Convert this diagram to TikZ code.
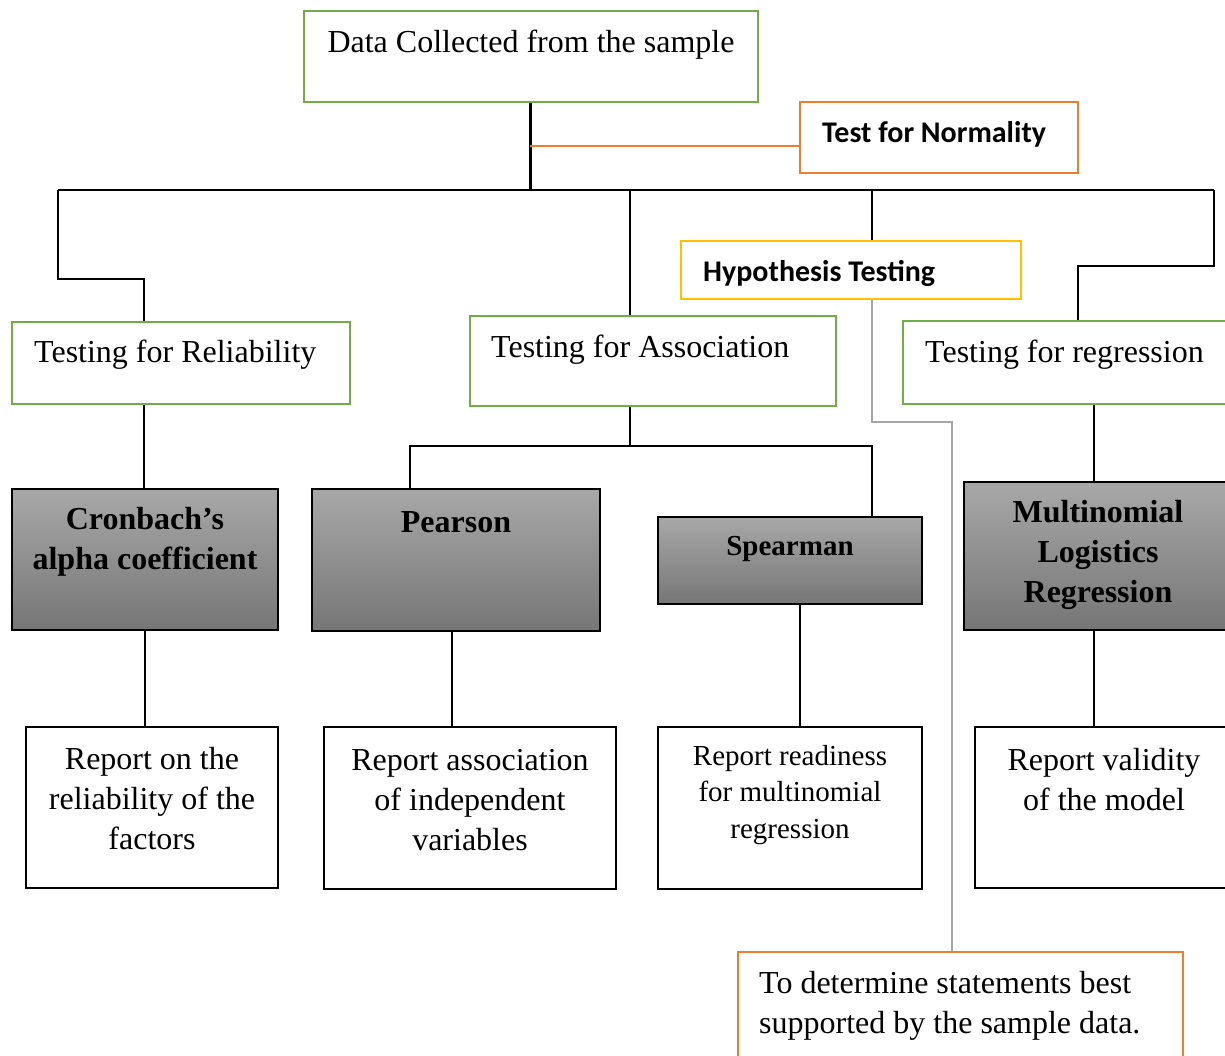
\documentclass[tikz,border=0pt]{standalone}
\usepackage{fontspec}
\setmainfont{Liberation Serif}
\newfontfamily\calibri{Carlito}
\usetikzlibrary{fit}
\definecolor{leafgreen}{HTML}{70AD47}
\definecolor{accentorange}{HTML}{ED7D31}
\definecolor{goldline}{HTML}{FFC000}
\definecolor{guideline}{HTML}{A5A5A5}
\definecolor{shadetop}{RGB}{168,168,168}
\definecolor{shadebottom}{RGB}{118,118,118}
\begin{document}
\begin{tikzpicture}[x=1pt,y=-1pt,
  frame/.style={inner sep=0pt, line width=2pt},
  greenbox/.style={frame, draw=leafgreen},
  orangebox/.style={frame, draw=accentorange},
  goldbox/.style={frame, draw=goldline},
  graybox/.style={frame, draw=black, line width=1.5pt, top color=shadetop, bottom color=shadebottom},
  plainbox/.style={frame, draw=black},
  serif/.style={font=\fontsize{32}{40}\selectfont, inner sep=0pt, align=center},
  serifbold/.style={font=\fontsize{32}{40}\selectfont\bfseries, inner sep=0pt, align=center},
  sans/.style={font=\fontsize{30}{34}\selectfont\calibri\bfseries, inner sep=0pt, anchor=west},
  link/.style={line width=2pt, draw=black},
]
\clip (0,0) rectangle (1225,1055);
\useasboundingbox (0,0) rectangle (1225,1055);
\fill[white] (0,0) rectangle (1225,1055);

% boxes
\node[greenbox, fit={(304,11)(758,102)}] (data) {};
\node[orangebox, fit={(800,102)(1078,173)}] (norm) {};
\node[goldbox, fit={(681,241)(1021,299)}] (hyp) {};
\node[greenbox, fit={(12,322)(350,404)}] (rel) {};
\node[greenbox, fit={(470,316)(836,406)}] (assoc) {};
\node[greenbox, fit={(903,321)(1245,404)}] (reg) {};
\node[graybox, fit={(12,489)(278,630)}] (cron) {};
\node[graybox, fit={(312,489)(600,631)}] (pear) {};
\node[graybox, fit={(658,517)(922,604)}] (spear) {};
\node[graybox, fit={(964,482)(1245,630)}] (multi) {};
\node[plainbox, fit={(26,727)(278,888)}] (rep1) {};
\node[plainbox, fit={(324,727)(616,889)}] (rep2) {};
\node[plainbox, fit={(658,727)(922,889)}] (rep3) {};
\node[plainbox, fit={(975,727)(1245,888)}] (rep4) {};
\node[orangebox, fit={(738,952)(1183,1075)}] (goal) {};

% texts
\node[serif] (tdata) at (531,45) {Data Collected from the sample};
\node[sans] (tnorm) at (822,134) {Test for Normality};
\node[sans] (thyp) at (703,273) {Hypothesis Testing};
\node[serif, anchor=west] (trel) at (34,355) {Testing for Reliability};
\node[serif, anchor=west] (tassoc) at (491,350) {Testing for Association};
\node[serif, anchor=west] (treg) at (925,355) {Testing for regression};
\node[serifbold] (tcron) at (145,542) {Cronbach’s\\alpha coefficient};
\node[serifbold] (tpear) at (456,522) {Pearson};
\node[serifbold, font=\fontsize{29}{36}\selectfont\bfseries] (tspear) at (790,549) {Spearman};
\node[serifbold] (tmulti) at (1098,555) {Multinomial\\Logistics\\Regression};
\node[serif] (trep1) at (152,799) {Report on the\\reliability of the\\factors};
\node[serif] (trep2) at (470,800) {Report association\\of independent\\variables};
\node[serif, font=\fontsize{29}{36.5}\selectfont] (trep3) at (790,795) {Report readiness\\for multinomial\\regression};
\node[serif] (trep4) at (1104,780) {Report validity\\of the model};
\node[serif, align=left, anchor=west] (tgoal) at (759,1006) {To determine statements best\\supported by the sample data.};

% junction points
\coordinate (bus) at (530,190);
\coordinate (busL) at (58,190);
\coordinate (busR) at (1214,190);
\coordinate (tap) at (530,146);
\coordinate (relknee) at (144,279);
\coordinate (b2) at (630,190);
\coordinate (b3) at (872,190);
\coordinate (regknee) at (1078,266);
\coordinate (gk) at (952,422);
\coordinate (forkL) at (410,446);
\coordinate (forkR) at (872,446);
\coordinate (regdrop) at (1094,404);

% connectors
\draw[link, line width=3pt] (data.south -| bus) -- (bus);
\draw[accentorange, line width=2pt] (tap) -- (tap -| norm.west);
\draw[link] (busL) -- (busR);
\draw[link] (busL) |- (relknee) -- (relknee |- rel.north);
\draw[link] (b2) -- (b2 |- assoc.north);
\draw[link] (b3) -- (b3 |- hyp.north);
\draw[link] (busR) |- (regknee) -- (regknee |- reg.north);
\draw[guideline, line width=2pt] (b3 |- hyp.south) |- (gk) -- (gk |- goal.north);
\draw[link] (relknee |- rel.south) -- (relknee |- cron.north);
\draw[link] (b2 |- assoc.south) -- (b2 |- forkL);
\draw[link] (forkL |- pear.north) -- (forkL) -- (forkR) -- (forkR |- spear.north);
\draw[link] (regdrop |- reg.south) -- (regdrop |- multi.north);
\draw[link] (145,630) coordinate (c1) (c1 |- cron.south) -- (c1 |- rep1.north);
\draw[link] (452,631) coordinate (c2) (c2 |- pear.south) -- (c2 |- rep2.north);
\draw[link] (800,604) coordinate (c3) (c3 |- spear.south) -- (c3 |- rep3.north);
\draw[link] (regdrop |- multi.south) -- (regdrop |- rep4.north);
\end{tikzpicture}
\end{document}
